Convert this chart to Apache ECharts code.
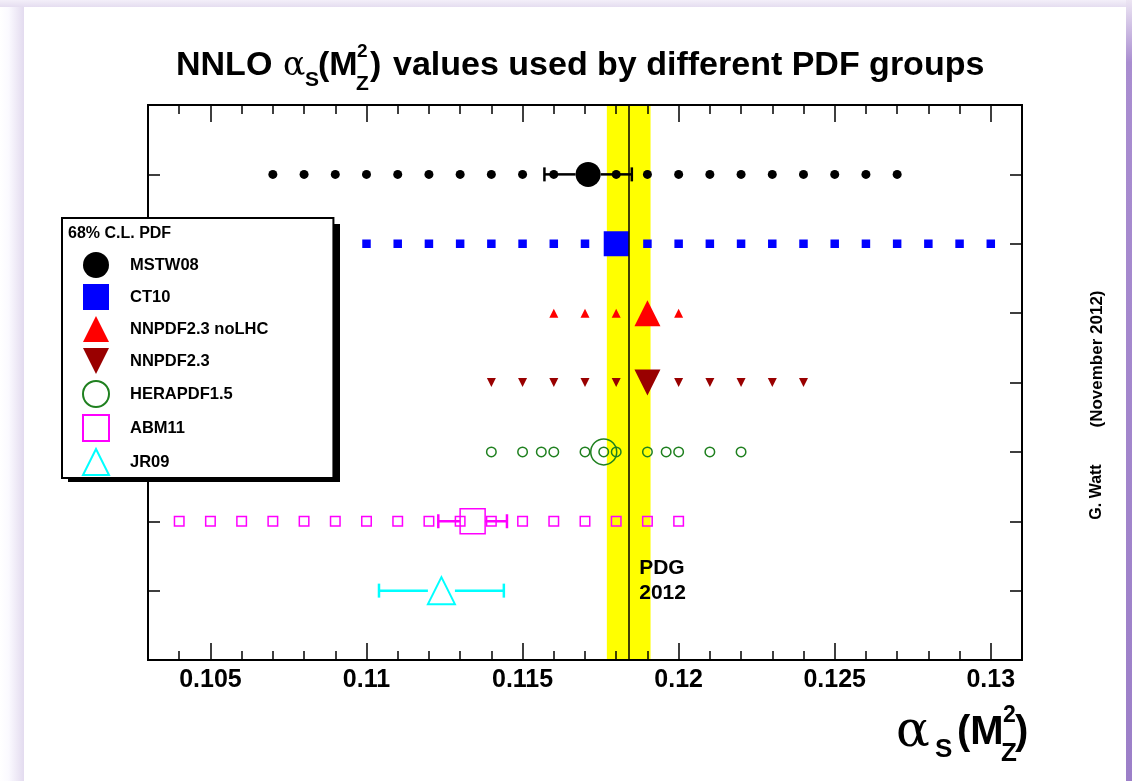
<!DOCTYPE html>
<html>
<head>
<meta charset="utf-8">
<script src="https://cdn.jsdelivr.net/npm/echarts@6/dist/echarts.min.js"></script>
<style>
  html, body { margin: 0; padding: 0; background: #ffffff; }
  #chart { width: 1132px; height: 781px; }
</style>
</head>
<body>
<div id="chart"></div>
<script>
// ---- NNLO alpha_S(M_Z^2) values per PDF group ----
const groups = ['MSTW08', 'CT10', 'NNPDF2.3 noLHC', 'NNPDF2.3', 'HERAPDF1.5', 'ABM11', 'JR09'];
const rows = [7, 6, 5, 4, 3, 2, 1];

// alpha_S values at which each group provides PDF sets
const mstwScan = [0.107, 0.108, 0.109, 0.110, 0.111, 0.112, 0.113, 0.114, 0.115, 0.116, 0.117,
                  0.118, 0.119, 0.120, 0.121, 0.122, 0.123, 0.124, 0.125, 0.126, 0.127];
const ct10Scan = [0.110, 0.111, 0.112, 0.113, 0.114, 0.115, 0.116, 0.117, 0.118, 0.119, 0.120,
                  0.121, 0.122, 0.123, 0.124, 0.125, 0.126, 0.127, 0.128, 0.129, 0.130];
const nnpdfNoLhcScan = [0.116, 0.117, 0.118, 0.119, 0.120];
const nnpdfScan = [0.114, 0.115, 0.116, 0.117, 0.118, 0.119, 0.120, 0.121, 0.122, 0.123, 0.124];
const heraScan = [0.114, 0.115, 0.1156, 0.116, 0.117, 0.1176, 0.118, 0.119, 0.1196, 0.120, 0.121, 0.122];
const abmScan = [0.104, 0.105, 0.106, 0.107, 0.108, 0.109, 0.110, 0.111, 0.112, 0.113, 0.114,
                 0.115, 0.116, 0.117, 0.118, 0.119, 0.120];
const jrScan = [];
const scans = [mstwScan, ct10Scan, nnpdfNoLhcScan, nnpdfScan, heraScan, abmScan, jrScan];

// default (central) values and 68% C.L. uncertainties where fitted
const centrals = [0.1171, 0.1180, 0.1190, 0.1190, 0.1176, 0.1134, 0.1124];
const errLow  = [0.1157, null, null, null, null, 0.1123, 0.1104];
const errHigh = [0.1185, null, null, null, null, 0.1145, 0.1144];

// world average band
const pdgValue = 0.1184;
const pdgLow = 0.1177;
const pdgHigh = 0.1191;
const pdgText = 'PDG\n2012';

// axis ticks
const xMin = 0.103, xMax = 0.131;
const majorTicks = [0.105, 0.110, 0.115, 0.120, 0.125, 0.130];
const minorTicks = [0.104, 0.106, 0.107, 0.108, 0.109, 0.111, 0.112, 0.113, 0.114, 0.116, 0.117,
                    0.118, 0.119, 0.121, 0.122, 0.123, 0.124, 0.126, 0.127, 0.128, 0.129];

// ---- styling ----
const FONT = 'Liberation Sans';
const GREEK = 'DejaVu Serif';
const DOWN_TRIANGLE = 'path://M0,0L10,0L5,10Z';
const styles = [
  { color: '#000000', symbol: 'circle',   small: 9,  big: 25, hollow: false },
  { color: '#0000ff', symbol: 'rect',     small: 8.5, big: 25, hollow: false },
  { color: '#ff0000', symbol: 'triangle', small: 9,  big: 26, hollow: false },
  { color: '#990000', symbol: DOWN_TRIANGLE, small: 9, big: 26, hollow: false },
  { color: '#1f801f', symbol: 'circle',   small: 9.5, big: 26, hollow: true, bw: 1.5 },
  { color: '#ff00ff', symbol: 'rect',     small: 9.5, big: 25, hollow: true, bw: 1.5 },
  { color: '#00ffff', symbol: 'triangle', small: 9,  big: 27, hollow: true, bw: 2 }
];

const series = [];

// PDG band, line and label
series.push({
  type: 'scatter',
  name: 'PDG 2012',
  z: 1,
  silent: true,
  symbolSize: 1,
  itemStyle: { color: 'rgba(0,0,0,0)', opacity: 1 },
  data: [[pdgValue, 1.14]],
  label: {
    show: true, position: 'right', distance: 10, formatter: pdgText,
    color: '#000', opacity: 1, fontFamily: FONT, fontWeight: 'bold', fontSize: 21, lineHeight: 25, align: 'left'
  },
  markArea: {
    silent: true,
    itemStyle: { color: '#ffff00', opacity: 1 },
    data: [[{ xAxis: pdgLow }, { xAxis: pdgHigh }]]
  },
  markLine: {
    silent: true, symbol: 'none', precision: 6, label: { show: false },
    lineStyle: { color: '#000', width: 1.5, type: 'solid', opacity: 1 },
    data: [[{ coord: [pdgValue, 0] }, { coord: [pdgValue, 8] }]]
  }
});

// horizontal error bars, broken around the central marker
function errorBar(i) {
  const st = styles[i];
  const gap = st.big / 2;
  return {
    type: 'custom',
    name: groups[i] + ' error',
    z: 3,
    silent: true,
    data: [[errLow[i], errHigh[i], centrals[i], rows[i]]],
    encode: { x: [0, 1, 2], y: 3 },
    renderItem: function (params, api) {
      const lo = api.coord([api.value(0), api.value(3)]);
      const hi = api.coord([api.value(1), api.value(3)]);
      const c = api.coord([api.value(2), api.value(3)]);
      const y = c[1];
      const capH = 7;
      const ls = { stroke: st.color, lineWidth: 2.5 };
      return {
        type: 'group',
        children: [
          { type: 'line', shape: { x1: lo[0], y1: y, x2: c[0] - gap, y2: y }, style: ls },
          { type: 'line', shape: { x1: c[0] + gap, y1: y, x2: hi[0], y2: y }, style: ls },
          { type: 'line', shape: { x1: lo[0], y1: y - capH, x2: lo[0], y2: y + capH }, style: ls },
          { type: 'line', shape: { x1: hi[0], y1: y - capH, x2: hi[0], y2: y + capH }, style: ls }
        ]
      };
    }
  };
}

groups.forEach(function (g, i) {
  const st = styles[i];
  if (errLow[i] != null) series.push(errorBar(i));
  const itemStyle = st.hollow
    ? { color: 'rgba(255,255,255,0)', borderColor: st.color, borderWidth: st.bw, opacity: 1 }
    : { color: st.color, opacity: 1 };
  const data = scans[i].map(function (v) { return [v, rows[i]]; });
  data.push({ value: [centrals[i], rows[i]], symbolSize: st.big });
  series.push({
    type: 'scatter',
    name: g,
    z: 4,
    silent: true,
    symbol: st.symbol,
    symbolSize: st.small,
    itemStyle: itemStyle,
    data: data
  });
});

function xAxisDef(pos, ticks, len, labels) {
  return {
    type: 'value', position: pos, min: xMin, max: xMax, z: 6,
    axisLine: { show: true, onZero: false, lineStyle: { color: '#000', width: 2 } },
    axisTick: { show: true, inside: true, length: len, customValues: ticks, lineStyle: { color: '#000', width: 1.5 } },
    axisLabel: labels ? {
      show: true, customValues: ticks, margin: 8,
      fontFamily: FONT, fontWeight: 'bold', fontSize: 25, color: '#000',
      formatter: function (v) { return String(parseFloat(v.toFixed(3))); }
    } : { show: false },
    splitLine: { show: false }
  };
}

function yAxisDef(pos) {
  return {
    type: 'value', position: pos, min: 0, max: 8, interval: 1, z: 6,
    axisLine: { show: true, onZero: false, lineStyle: { color: '#000', width: 2 } },
    axisTick: { show: true, inside: true, length: 12, lineStyle: { color: '#000', width: 1.5 } },
    axisLabel: { show: false },
    splitLine: { show: false }
  };
}

// title and axis title pieces (alpha_S(M_Z^2) with stacked sub/superscripts)
function txt(x, y, s, size, family, weight) {
  return {
    type: 'text', x: x, y: y, z: 100,
    style: { text: s, fontSize: size, fontFamily: family || FONT, fontWeight: weight || 'bold',
             fill: '#000', textAlign: 'left', textVerticalAlign: 'middle' }
  };
}

const graphics = [
  // page frame
  { type: 'rect', z: 0, shape: { x: 0, y: 0, width: 24, height: 781 },
    style: { fill: new echarts.graphic.LinearGradient(0, 0, 1, 0, [
      { offset: 0, color: '#ffffff' }, { offset: 0.35, color: '#fbfaff' }, { offset: 1, color: '#e3dbef' }]) } },
  { type: 'rect', z: 0, shape: { x: 0, y: 0, width: 1132, height: 7 },
    style: { fill: new echarts.graphic.LinearGradient(0, 0, 0, 1, [
      { offset: 0, color: '#f3eff9' }, { offset: 1, color: '#e5ddf0' }]) } },
  { type: 'rect', z: 0, shape: { x: 1126, y: 0, width: 6, height: 781 },
    style: { fill: new echarts.graphic.LinearGradient(0, 0, 0, 1, [
      { offset: 0, color: '#ece5f3' }, { offset: 0.08, color: '#a98dd0' }, { offset: 1, color: '#9c7fc8' }]) } },

  // drop shadow behind the legend box
  { type: 'rect', z: 9, shape: { x: 68, y: 224, width: 272, height: 258 }, style: { fill: '#000' } },

  // title
  txt(176, 66, 'NNLO', 34),
  txt(283, 66, 'α', 33, GREEK, 'normal'),
  txt(305, 80, 'S', 21),
  txt(318, 66, '(M', 34),
  txt(357, 52, '2', 19),
  txt(356, 84, 'Z', 21),
  txt(370, 66, ')', 34),
  txt(393, 66, 'values used by different PDF groups', 34),

  // x-axis title
  txt(896, 733, 'α', 50, GREEK, 'normal'),
  txt(935, 750, 'S', 26),
  txt(957, 733, '(M', 40),
  txt(1003, 716, '2', 23),
  txt(1001, 754, 'Z', 26),
  txt(1015, 733, ')', 40),

  // legend header
  txt(68, 234, '68% C.L. PDF', 16),

  // credit
  { type: 'text', x: 1097, y: 492, rotation: Math.PI / 2, z: 100,
    style: { text: 'G. Watt', fontSize: 16, fontFamily: FONT, fontWeight: 'bold', fill: '#000',
             textAlign: 'center', textVerticalAlign: 'middle' } },
  { type: 'text', x: 1097, y: 359, rotation: Math.PI / 2, z: 100,
    style: { text: '(November 2012)', fontSize: 17, fontFamily: FONT, fontWeight: 'bold', fill: '#000',
             textAlign: 'center', textVerticalAlign: 'middle' } }
];

const chart = echarts.init(document.getElementById('chart'), null, { renderer: 'canvas' });
chart.setOption({
  animation: false,
  backgroundColor: '#ffffff',
  grid: { left: 148, right: 110, top: 105, bottom: 121, containLabel: false },
  xAxis: [
    xAxisDef('bottom', majorTicks, 17, true),
    xAxisDef('bottom', minorTicks, 9, false),
    xAxisDef('top', majorTicks, 17, false),
    xAxisDef('top', minorTicks, 9, false)
  ],
  yAxis: [yAxisDef('left'), yAxisDef('right')],
  legend: {
    data: groups,
    orient: 'vertical',
    left: 62, top: 218,
    itemWidth: 26, itemHeight: 26, itemGap: 6,
    padding: [34, 65, 2, 20],
    backgroundColor: '#ffffff',
    borderColor: '#000', borderWidth: 2, borderRadius: 0,
    selectedMode: false,
    z: 10,
    formatter: function (name) { return '{t|' + name + '}'; },
    textStyle: {
      color: '#000',
      rich: { t: { fontFamily: FONT, fontWeight: 'bold', fontSize: 16.5, color: '#000', padding: [0, 0, 0, 16] } }
    }
  },
  graphic: graphics,
  series: series
});
</script>
</body>
</html>
